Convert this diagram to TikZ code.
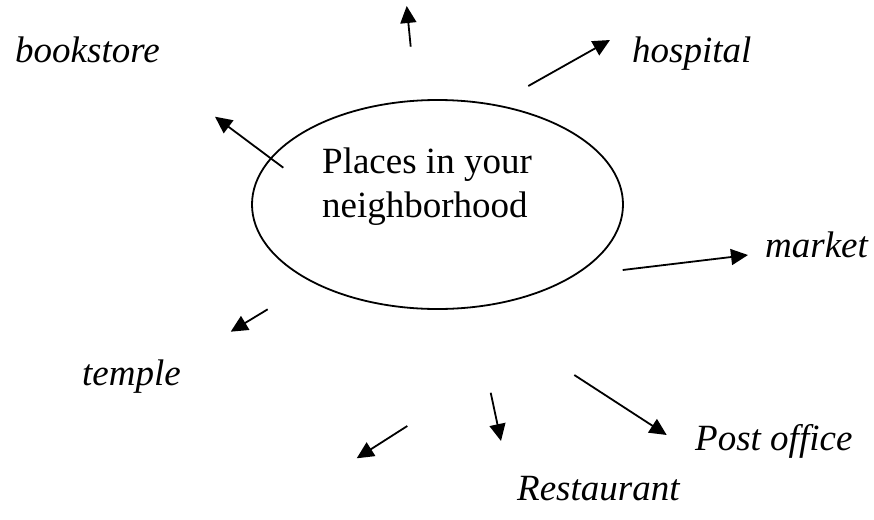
\documentclass[tikz,border=0pt]{standalone}
\usepackage{fontspec}
\setmainfont{Liberation Serif}
\usetikzlibrary{arrows.meta}
\begin{document}
\begin{tikzpicture}[x=1pt,y=-1pt,
  arr/.style={line width=1.8pt,-{Triangle[length=17pt,width=16pt]}},
  lbl/.style={anchor=base west,inner sep=0pt,font=\fontsize{37}{44}\selectfont\itshape},
  mtxt/.style={anchor=base west,inner sep=0pt,font=\fontsize{37}{44}\selectfont}]
\useasboundingbox (0,0) rectangle (874,519);
\draw[line width=1.8pt] (437.5,204.5) ellipse [x radius=185.5, y radius=104.5];
\node[mtxt] (t1) at (322,173) {Places in your};
\node[mtxt] (t2) at (322,217) {neighborhood};
\node[lbl] (book) at (15,63) {bookstore};
\node[lbl] (hosp) at (632,63) {hospital};
\node[lbl] (mark) at (765,257) {market};
\node[lbl] (temp) at (82,385) {temple};
\node[lbl] (post) at (695,450) {Post office};
\node[lbl] (rest) at (517,500) {Restaurant};
\coordinate (a1s) at (410.7,46.7); \coordinate (a1e) at (406.7,6);
\coordinate (a2s) at (528.3,86);   \coordinate (a2e) at (610,40);
\coordinate (a3s) at (283.3,167.7);\coordinate (a3e) at (215,116.7);
\coordinate (a4s) at (622.7,270);  \coordinate (a4e) at (748,255);
\coordinate (a5s) at (267.7,309.3);\coordinate (a5e) at (230.7,331.7);
\coordinate (a6s) at (407.3,426);  \coordinate (a6e) at (356.7,458.3);
\coordinate (a7s) at (490.7,392.7);\coordinate (a7e) at (501,441);
\coordinate (a8s) at (574.3,375);  \coordinate (a8e) at (666.7,435);
\draw[arr] (a1s) -- (a1e);
\draw[arr] (a2s) -- (a2e);
\draw[arr] (a3s) -- (a3e);
\draw[arr] (a4s) -- (a4e);
\draw[arr] (a5s) -- (a5e);
\draw[arr] (a6s) -- (a6e);
\draw[arr] (a7s) -- (a7e);
\draw[arr] (a8s) -- (a8e);
\end{tikzpicture}
\end{document}
